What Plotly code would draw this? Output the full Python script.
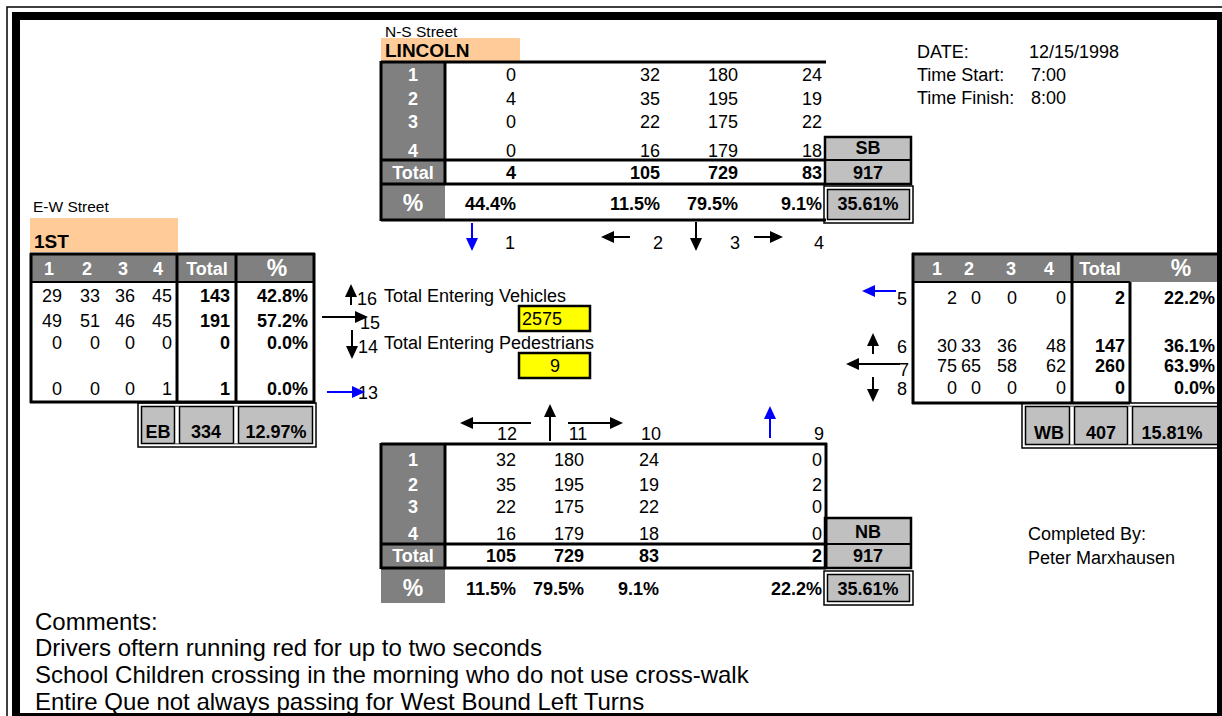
import math
import plotly.graph_objects as go

# ---------------- data (read from the sheet) ----------------
info_labels = ["DATE:", "Time Start:", "Time Finish:"]
info_values = ["12/15/1998", "7:00", "8:00"]

ns_street = "LINCOLN"
ew_street = "1ST"

interval_labels = ["1", "2", "3", "4"]

# Southbound (top) : movements 1..4
sb_moves = ["1", "2", "3", "4"]
sb_counts = [[0, 32, 180, 24],
             [4, 35, 195, 19],
             [0, 22, 175, 22],
             [0, 16, 179, 18]]
sb_totals = [4, 105, 729, 83]
sb_pct = ["44.4%", "11.5%", "79.5%", "9.1%"]
sb_sum = 917
sb_share = "35.61%"

# Northbound (bottom) : movements 12, 11, 10, 9
nb_moves = ["12", "11", "10", "9"]
nb_counts = [[32, 180, 24, 0],
             [35, 195, 19, 2],
             [22, 175, 22, 0],
             [16, 179, 18, 0]]
nb_totals = [105, 729, 83, 2]
nb_pct = ["11.5%", "79.5%", "9.1%", "22.2%"]
nb_sum = 917
nb_share = "35.61%"

# Eastbound (left) : movements 16, 15, 14, 13 (rows), intervals 1..4 (cols)
eb_moves = ["16", "15", "14", "13"]
eb_counts = [[29, 33, 36, 45],
             [49, 51, 46, 45],
             [0, 0, 0, 0],
             [0, 0, 0, 1]]
eb_totals = [143, 191, 0, 1]
eb_pct = ["42.8%", "57.2%", "0.0%", "0.0%"]
eb_sum = 334
eb_share = "12.97%"

# Westbound (right) : movements 5, 6, 7, 8
wb_moves = ["5", "6", "7", "8"]
wb_counts = [[2, 0, 0, 0],
             [30, 33, 36, 48],
             [75, 65, 58, 62],
             [0, 0, 0, 0]]
wb_totals = [2, 147, 260, 0]
wb_pct = ["22.2%", "36.1%", "63.9%", "0.0%"]
wb_sum = 407
wb_share = "15.81%"

entering_vehicles = 2575
entering_peds = 9

completed_by = ["Completed By:", "Peter Marxhausen"]
comments = ["Comments:",
            "Drivers oftern running red for up to two seconds",
            "School Children crossing in the morning who do not use cross-walk",
            "Entire Que not always passing for West Bound Left Turns"]

# ---------------- styling / layout constants ----------------
W, H = 1222, 716
FONT = "Liberation Sans, Arial, sans-serif"
DARK = "#808080"
LIGHT = "#C0C0C0"
PEACH = "#FFCC99"
YELLOW = "#FFFF00"
BLUE = "#0000FF"
FS = 18
DY = 1.5

fig = go.Figure()
shapes = []


def rect(x0, y0, x1, y1, fill=None, lw=0, lc="black", layer="below"):
    shapes.append(dict(type="rect", xref="x", yref="y", x0=x0, y0=y0, x1=x1, y1=y1,
                       fillcolor=fill if fill else "rgba(0,0,0,0)",
                       line=dict(width=lw, color=lc), layer=layer))


def line(x0, y0, x1, y1, lw=3, color="black"):
    shapes.append(dict(type="line", xref="x", yref="y", x0=x0, y0=y0, x1=x1, y1=y1,
                       line=dict(width=lw, color=color), layer="above"))


def arrow(x0, y0, x1, y1, color="black", lw=2, hl=13, hw=6):
    dx, dy = x1 - x0, y1 - y0
    L = math.hypot(dx, dy)
    ux, uy = dx / L, dy / L
    bx, by = x1 - ux * hl, y1 - uy * hl
    line(x0, y0, bx + ux * 2, by + uy * 2, lw, color)
    px, py = -uy * hw, ux * hw
    shapes.append(dict(type="path", xref="x", yref="y",
                       path=f"M{x1},{y1} L{bx + px},{by + py} L{bx - px},{by - py} Z",
                       fillcolor=color, line=dict(width=0, color=color), layer="above"))


def dbl_box(x0, y0, x1, y1, seps=()):
    rect(x0, y0, x1, y1, "white", 1.5)
    rect(x0 + 3.5, y0 + 3.5, x1 - 3.5, y1 - 3.5, LIGHT, 1.5)
    for sx in seps:
        rect(sx - 2.5, y0 + 3.5, sx + 2.5, y1 - 3.5, "white", 0)
        line(sx - 2.5, y0 + 3.5, sx - 2.5, y1 - 3.5, 1.5)
        line(sx + 2.5, y0 + 3.5, sx + 2.5, y1 - 3.5, 1.5)


def text(xs, ys, labels, pos="middle center", size=FS, bold=False, color="black"):
    t = [f"<b>{s}</b>" if bold else f"{s}" for s in labels]
    fig.add_trace(go.Scatter(x=list(xs), y=[v + DY for v in ys], text=t, mode="text",
                             textposition=pos, hoverinfo="skip", showlegend=False,
                             textfont=dict(size=size, color=color, family=FONT)))


# ---------------- outer frame ----------------
rect(7, 7, 1240, 740, None, 1.5, layer="above")
rect(16, 16, 1221, 717, None, 8, layer="above")

# ---------------- info block ----------------
info_y = [52, 75, 98]
text([917] * 3, info_y, info_labels, "middle right")
text([1029, 1031, 1031], info_y, info_values, "middle right")

# ---------------- top (SB) table ----------------
text([385], [32], ["N-S Street"], "middle right", 15.5)
rect(381, 38, 520, 61, PEACH)
text([385], [51], [ns_street], "middle right", 19, True)
rect(381, 62, 445, 220, DARK)
line(381, 62, 826, 62)
line(381, 61, 381, 221)
line(445, 62, 445, 185)
line(381, 160, 826, 160)
line(381, 184, 826, 184)
line(381, 220, 826, 220)
sb_row_y = [75, 99, 122, 151]
sb_tot_y, sb_pct_y = 173, 204
sb_col_x = [516, 660, 738, 822]
text([413] * 5, sb_row_y + [sb_tot_y], interval_labels + ["Total"], bold=True, color="white")
text([413], [sb_pct_y], ["%"], size=23, bold=True, color="white")
for r, row in enumerate(sb_counts):
    text(sb_col_x, [sb_row_y[r]] * 4, row, "middle left")
text(sb_col_x, [sb_tot_y] * 4, sb_totals, "middle left", bold=True)
text(sb_col_x, [sb_pct_y] * 4, sb_pct, "middle left", bold=True)
# SB summary box
rect(825, 137, 911, 184, LIGHT, 2.5)
line(825, 160, 911, 160, 2)
dbl_box(824, 186, 913, 223)
text([868] * 3, [148, sb_tot_y, sb_pct_y], ["SB", sb_sum, sb_share], bold=True)
# movement arrows
arrow(472, 223, 472, 251, BLUE)
arrow(630, 237, 601, 237)
arrow(696, 222, 696, 251)
arrow(754, 237, 783, 237)
text([510, 658, 735, 819], [243] * 4, sb_moves)

# ---------------- left (EB) table ----------------
text([33], [207], ["E-W Street"], "middle right", 15.5)
rect(30, 218, 178, 252, PEACH)
text([34], [242], [ew_street], "middle right", 19, True)
rect(30, 253, 315, 282, DARK)
line(30, 254, 315, 254)
line(31, 253, 31, 403)
line(314, 253, 314, 403)
line(30, 402, 315, 402)
line(177, 253, 177, 402)
line(236, 253, 236, 402)
line(30, 282, 315, 282, 2)
eb_head_x = [49, 87, 123, 158, 207]
text(eb_head_x, [269] * 5, interval_labels + ["Total"], bold=True, color="white")
text([277], [269], ["%"], size=23, bold=True, color="white")
eb_row_y = [296, 321, 343, 389]
eb_col_x = [62, 100, 135, 172]
for r, row in enumerate(eb_counts):
    text(eb_col_x, [eb_row_y[r]] * 4, row, "middle left")
text([230] * 4, eb_row_y, eb_totals, "middle left", bold=True)
text([308] * 4, eb_row_y, eb_pct, "middle left", bold=True)
dbl_box(138, 403, 316, 447, seps=(177, 236))
text([158, 206, 276], [432] * 3, ["EB", eb_sum, eb_share], bold=True)
arrow(351, 305, 351, 284)
arrow(322, 317, 368, 317)
arrow(352, 330, 352, 359)
arrow(327, 392, 365, 392, BLUE)
text([357, 360, 358, 358], [299, 323, 347, 393], eb_moves, "middle right")

# ---------------- centre totals ----------------
text([384, 384], [296, 343], ["Total Entering Vehicles", "Total Entering Pedestrians"], "middle right")
rect(519, 306, 590, 331, YELLOW, 2.5)
rect(519, 353, 590, 378, YELLOW, 2.5)
text([522], [319], [entering_vehicles], "middle right")
text([555], [366], [entering_peds])

# ---------------- right (WB) table ----------------
rect(912, 253, 1222, 282, DARK)
line(912, 254, 1222, 254)
line(913, 253, 913, 404)
line(912, 403, 1130, 403)
line(1072, 253, 1072, 403)
line(1130, 282, 1130, 403)
line(912, 282, 1130, 282, 2)
wb_head_x = [937, 969, 1011, 1049, 1100]
text(wb_head_x, [269] * 5, interval_labels + ["Total"], bold=True, color="white")
text([1181], [269], ["%"], size=23, bold=True, color="white")
wb_row_y = [298, 346, 366, 388]
wb_col_x = [957, 981, 1017, 1066]
for r, row in enumerate(wb_counts):
    text(wb_col_x, [wb_row_y[r]] * 4, row, "middle left")
text([1125] * 4, wb_row_y, wb_totals, "middle left", bold=True)
text([1215] * 4, wb_row_y, wb_pct, "middle left", bold=True)
dbl_box(1022, 403, 1226, 448, seps=(1072, 1130))
text([1049, 1101, 1172], [433] * 3, ["WB", wb_sum, wb_share], bold=True)
arrow(896, 291, 862, 291, BLUE)
arrow(873, 354, 873, 333)
arrow(900, 364, 846, 364)
arrow(873, 377, 873, 402)
text([897, 897, 899, 897], [299, 347, 370, 389], wb_moves, "middle right")

# ---------------- bottom (NB) table ----------------
arrow(531, 423, 460, 423)
arrow(550, 441, 550, 404)
arrow(568, 423, 623, 423)
arrow(770, 438, 770, 406, BLUE)
text([507, 578, 651, 819], [434] * 4, nb_moves)
rect(381, 444, 445, 603, DARK)
line(381, 444, 827, 444)
line(381, 443, 381, 569)
line(445, 444, 445, 569)
line(826, 443, 826, 569)
line(381, 544, 826, 544)
line(381, 568, 826, 568)
nb_row_y = [460, 485, 507, 534]
nb_tot_y, nb_pct_y = 556, 589
nb_col_x = [516, 584, 659, 822]
text([413] * 5, nb_row_y + [nb_tot_y], interval_labels + ["Total"], bold=True, color="white")
text([413], [nb_pct_y], ["%"], size=23, bold=True, color="white")
for r, row in enumerate(nb_counts):
    text(nb_col_x, [nb_row_y[r]] * 4, row, "middle left")
text(nb_col_x, [nb_tot_y] * 4, nb_totals, "middle left", bold=True)
text(nb_col_x, [nb_pct_y] * 4, nb_pct, "middle left", bold=True)
rect(825, 518, 911, 568, LIGHT, 2.5)
line(825, 544, 911, 544, 2)
dbl_box(824, 571, 913, 605)
text([868] * 3, [532, nb_tot_y, nb_pct_y], ["NB", nb_sum, nb_share], bold=True)

# ---------------- completed by / comments ----------------
text([1028, 1028], [534, 558], completed_by, "middle right")
text([35] * 4, [622, 648, 675, 702], comments, "middle right", 24)

fig.update_layout(
    width=W, height=H, margin=dict(l=0, r=0, t=0, b=0),
    paper_bgcolor="white", plot_bgcolor="white",
    xaxis=dict(range=[0, W], visible=False, fixedrange=True),
    yaxis=dict(range=[H, 0], visible=False, fixedrange=True),
    shapes=shapes, showlegend=False,
)
fig.write_html("out.html", config={"displayModeBar": False},
               post_script="document.body.style.margin='0';document.body.style.overflow='hidden';")
